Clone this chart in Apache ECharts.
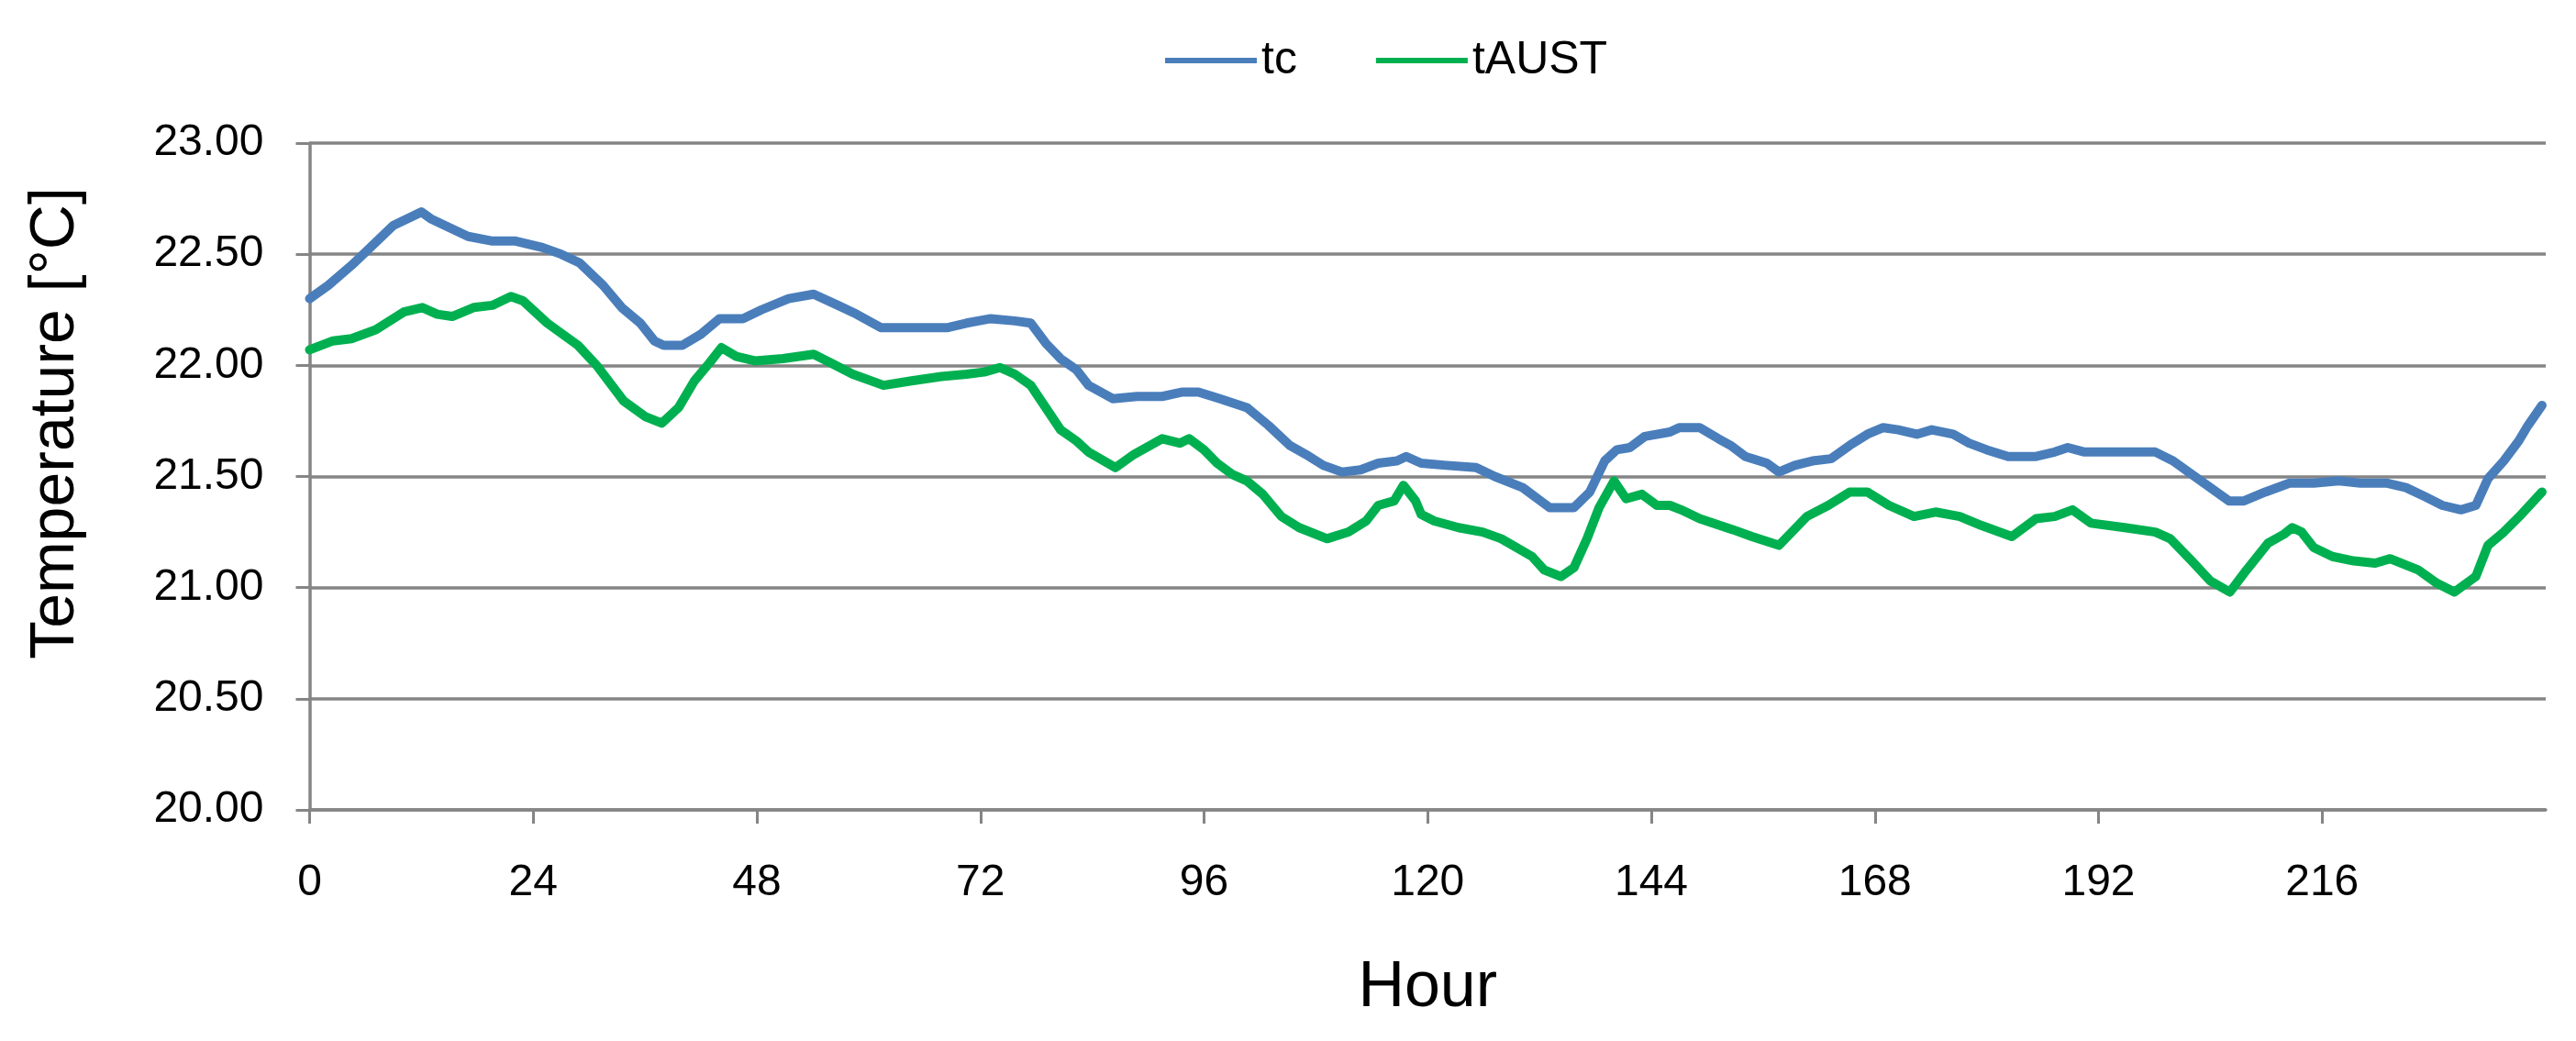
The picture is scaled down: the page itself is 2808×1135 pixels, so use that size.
<!DOCTYPE html>
<html>
<head>
<meta charset="utf-8">
<script src="https://cdn.jsdelivr.net/npm/echarts@6/dist/echarts.min.js"></script>
<style>
html,body{margin:0;padding:0;background:#fff;}
#chart{width:2808px;height:1135px;}
</style>
</head>
<body>
<div id="chart"></div>
<script>
// Tick labels
const xTicks = [0, 24, 48, 72, 96, 120, 144, 168, 192, 216];
const yTicks = [20.0, 20.5, 21.0, 21.5, 22.0, 22.5, 23.0];

// Series tc (hour, temperature)
const tcHours = [0,2,4.5,7,9,12,13,14.5,17,19.5,22,25,27,29,31.5,33.5,35.5,37,38,40,42,44,46.5,48.5,
  51.4,54.1,56.7,58.7,61.3,68.5,70.5,73.1,75.7,77.4,79,80.6,82.3,83.6,86.2,88.8,91.5,93.7,95.4,
  97.7,100.6,102.9,105.2,106.9,108.8,110.8,112.8,114.7,116.7,117.7,119.3,122,125.2,127.2,130.2,131.8,133.1,135.7,137.4,139,140.3,141.7,143.3,
  146,147,149.2,151.2,152.5,154.1,156.4,157.7,159.4,161.3,163.3,165.3,167.2,168.9,170.5,172.5,174.1,176.4,178.1,180,182.3,185.3,187.3,188.7,190.5,
  192.2,198.1,200,202,204,206,207.6,209.9,212.5,215.1,217.8,220.1,223,225,227,228.9,230.9,232.5,233.8,235.5,237.1,238.1,239.6];
const tcValues = [22.30,22.36,22.45,22.55,22.63,22.69,22.66,22.63,22.58,22.56,22.56,22.53,22.50,22.46,22.36,22.26,22.19,22.11,22.09,22.09,22.14,22.21,22.21,22.25,
  22.30,22.32,22.27,22.23,22.17,22.17,22.19,22.21,22.20,22.19,22.10,22.03,21.98,21.91,21.85,21.86,21.86,21.88,21.88,
  21.85,21.81,21.73,21.64,21.60,21.55,21.52,21.53,21.56,21.57,21.59,21.56,21.55,21.54,21.50,21.45,21.40,21.36,21.36,21.43,21.57,21.62,21.63,21.68,
  21.70,21.72,21.72,21.67,21.64,21.59,21.56,21.52,21.55,21.57,21.58,21.64,21.69,21.72,21.71,21.69,21.71,21.69,21.65,21.62,21.59,21.59,21.61,21.63,21.61,
  21.61,21.61,21.57,21.51,21.45,21.39,21.39,21.43,21.47,21.47,21.48,21.47,21.47,21.45,21.41,21.37,21.35,21.37,21.49,21.57,21.66,21.73,21.82];

// Series tAUST (hour, temperature)
const tAustHours = [0,2.5,4.5,7.1,10.1,12.1,13.7,15.3,17.6,19.6,21.6,22.9,25.5,28.8,30.8,33.7,36,37.8,39.6,41.3,42.9,44.2,45.8,47.8,
  50.8,54.1,56,58.3,61.6,64.6,67.8,70.5,72.4,74.1,75.7,77.4,79,80.6,82.3,83.6,86.5,88.5,91.5,93.4,94.4,96,
  97.4,99,100.6,102.3,104.3,106.2,109.2,111.5,113.4,114.7,116.4,117.4,118.7,119.3,120.7,123.3,125.9,127.9,131.2,132.5,134.3,135.7,137.1,138.4,140,141.3,143,144.6,
  146,147.2,149.2,152.8,154.8,157.7,160.7,163,165.3,167.2,169.5,172.2,174.5,177.1,179.4,182.7,185.3,187.3,189.2,191.2,
  194.8,198.1,199.7,202,204,206.1,207.9,210.2,211.9,212.8,213.8,215.1,217.1,219.4,221.7,223.3,226.3,228.3,230.2,232.5,233.8,235.5,237.4,239.6];
const tAustValues = [22.07,22.11,22.12,22.16,22.24,22.26,22.23,22.22,22.26,22.27,22.31,22.29,22.19,22.09,22.00,21.84,21.77,21.74,21.81,21.93,22.01,22.08,22.04,22.02,
  22.03,22.05,22.01,21.96,21.91,21.93,21.95,21.96,21.97,21.99,21.96,21.91,21.81,21.71,21.66,21.61,21.54,21.60,21.67,21.65,21.67,21.62,
  21.56,21.51,21.48,21.42,21.32,21.27,21.22,21.25,21.30,21.37,21.39,21.46,21.39,21.33,21.30,21.27,21.25,21.22,21.14,21.08,21.05,21.09,21.22,21.36,21.48,21.40,21.42,21.37,
  21.37,21.35,21.31,21.26,21.23,21.19,21.32,21.37,21.43,21.43,21.37,21.32,21.34,21.32,21.28,21.23,21.31,21.32,21.35,21.29,
  21.27,21.25,21.22,21.12,21.03,20.98,21.08,21.20,21.24,21.27,21.25,21.18,21.14,21.12,21.11,21.13,21.08,21.02,20.98,21.05,21.19,21.25,21.33,21.43];

const pairs = (xs, ys) => xs.map((x, i) => [x, ys[i]]);
const FONT = '"Liberation Sans", Arial, sans-serif';
const GRID = '#858585';

const chart = echarts.init(document.getElementById('chart'), null, {renderer: 'canvas'});
chart.setOption({
  animation: false,
  backgroundColor: '#ffffff',
  textStyle: {fontFamily: FONT, color: '#000'},
  legend: {
    left: 1265, top: 36,
    icon: 'rect', itemWidth: 100, itemHeight: 6, itemGap: 86,
    textStyle: {fontFamily: FONT, fontSize: 50, color: '#000'},
    data: ['tc', 'tAUST']
  },
  grid: {left: 337.5, right: 33, top: 156, bottom: 252, containLabel: false},
  xAxis: {
    type: 'value', min: 0, max: 240, interval: 24,
    name: 'Hour', nameLocation: 'middle', nameGap: 160,
    nameTextStyle: {fontFamily: FONT, fontSize: 70, color: '#000'},
    axisLine: {show: true, lineStyle: {color: GRID, width: 3.5}},
    axisTick: {show: true, inside: false, length: 15, lineStyle: {color: GRID, width: 3}},
    axisLabel: {
      fontFamily: FONT, fontSize: 48, color: '#000', margin: 56,
      showMaxLabel: false,
      formatter: v => (xTicks.indexOf(v) >= 0 ? String(v) : '')
    },
    splitLine: {show: false}
  },
  yAxis: {
    type: 'value', min: yTicks[0], max: yTicks[yTicks.length - 1], interval: 0.5,
    name: 'Temperature [°C]', nameLocation: 'middle', nameGap: 242, nameRotate: 90,
    nameTextStyle: {fontFamily: FONT, fontSize: 68, color: '#000', padding: [0, 0, 0, 116]},
    axisLine: {show: true, lineStyle: {color: GRID, width: 3.5}},
    axisTick: {show: true, inside: false, length: 15, lineStyle: {color: GRID, width: 3}},
    axisLabel: {fontFamily: FONT, fontSize: 48, color: '#000', margin: 50, formatter: v => v.toFixed(2)},
    splitLine: {show: true, lineStyle: {color: GRID, width: 3.5}}
  },
  series: [
    {
      name: 'tc', type: 'line', data: pairs(tcHours, tcValues),
      symbol: 'none', smooth: false, color: '#4A7EBB',
      lineStyle: {width: 10, color: '#4A7EBB', cap: 'round', join: 'round'}
    },
    {
      name: 'tAUST', type: 'line', data: pairs(tAustHours, tAustValues),
      symbol: 'none', smooth: false, color: '#00B050',
      lineStyle: {width: 10, color: '#00B050', cap: 'round', join: 'round'}
    }
  ]
});
</script>
</body>
</html>
